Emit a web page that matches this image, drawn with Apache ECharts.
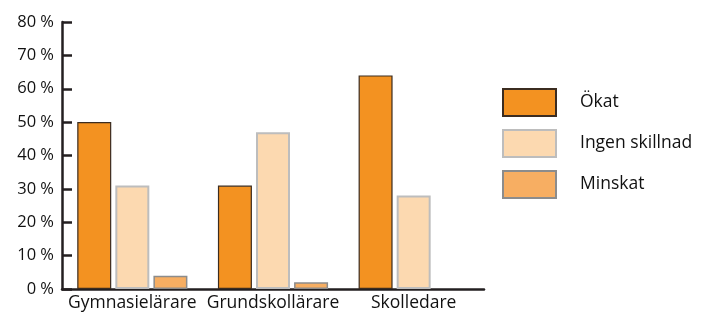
<!DOCTYPE html>
<html>
<head>
<meta charset="utf-8">
<script src="https://cdn.jsdelivr.net/npm/echarts@6/dist/echarts.min.js"></script>
<style>
  html, body { margin: 0; padding: 0; background: #fff; }
  #chart { width: 704px; height: 316px; }
</style>
</head>
<body>
<div id="chart"></div>
<script>
// data
var categories = ['Gymnasielärare', 'Grundskollärare', 'Skolledare'];
var okat = [50, 31, 64];
var ingenSkillnad = [31, 47, 28];
var minskat = [4, 2, null];

var axisColor = '#231f20';
var textColor = '#111111';
var font = 'Open Sans';

var chart = echarts.init(document.getElementById('chart'));
chart.setOption({
    animation: false,
    textStyle: { fontFamily: font },
    grid: { left: 62, right: 220, top: 22, bottom: 27 },
    legend: {
        orient: 'vertical',
        left: 502,
        top: 88,
        padding: 0,
        icon: 'rect',
        itemWidth: 53,
        itemHeight: 27,
        itemGap: 12,
        selectedMode: false,
        textStyle: {
            fontFamily: font,
            fontSize: 17.5,
            color: textColor,
            padding: [0, 0, 0, 19]
        },
        data: ['Ökat', 'Ingen skillnad', 'Minskat']
    },
    xAxis: {
        type: 'category',
        data: categories,
        axisLine: { lineStyle: { color: axisColor, width: 2.5 } },
        axisTick: { inside: true, length: 7, lineStyle: { color: axisColor, width: 2.5 } },
        axisLabel: { color: textColor, fontSize: 17.5, margin: 5, interval: 0 }
    },
    yAxis: {
        type: 'value',
        min: 0,
        max: 80,
        interval: 10,
        splitLine: { show: false },
        axisLine: { show: true, lineStyle: { color: axisColor, width: 2.5 } },
        axisTick: { show: true, inside: true, length: 10, lineStyle: { color: axisColor, width: 2.5 } },
        axisLabel: { color: textColor, fontSize: 16.5, margin: 8, formatter: '{value} %' }
    },
    series: [
        {
            name: 'Ökat',
            type: 'bar',
            data: okat,
            barWidth: 34,
            barGap: '12%',
            itemStyle: { color: '#f39221', borderColor: '#3b2c20', borderWidth: 1.2 }
        },
        {
            name: 'Ingen skillnad',
            type: 'bar',
            data: ingenSkillnad,
            barWidth: 34,
            barGap: '12%',
            itemStyle: { color: '#fcd9b0', borderColor: '#bdbdbd', borderWidth: 2 }
        },
        {
            name: 'Minskat',
            type: 'bar',
            data: minskat,
            barWidth: 34,
            barGap: '12%',
            itemStyle: { color: '#f7ae62', borderColor: '#8c8c8c', borderWidth: 1.5 }
        }
    ]
});
</script>
</body>
</html>
